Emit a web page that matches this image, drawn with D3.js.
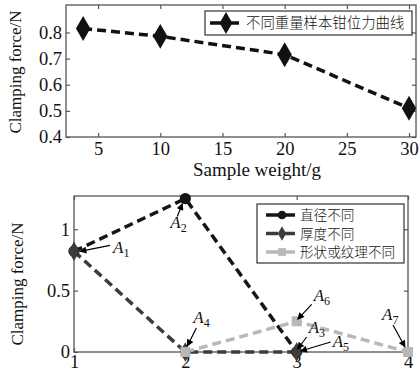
<!DOCTYPE html>
<html>
<head>
<meta charset="utf-8">
<script src="https://cdn.jsdelivr.net/npm/d3@7"></script>
<style>
  body { margin: 0; background: #fff; }
  svg text { font-family: "Liberation Serif", "DejaVu Serif", serif; }
  svg text.cjk { font-family: "Noto Sans CJK SC", sans-serif; }
</style>
</head>
<body>
<div id="chart"></div>
<script>
// top chart data
const weights = [3.8, 10, 20, 30];
const forces = [0.815, 0.785, 0.715, 0.51];
const topXTicks = [5, 10, 15, 20, 25, 30];
const topYTicks = [0.4, 0.5, 0.6, 0.7, 0.8];
const topLegend = '不同重量样本钳位力曲线';

// bottom chart data
const cases = [1, 2, 3, 4];
const diameter = [[1, 0.82], [2, 1.25], [3, 0]];
const thickness = [[1, 0.82], [2, 0], [3, 0]];
const shape = [[2, 0], [3, 0.25], [4, 0]];
const seriesNames = ['直径不同', '厚度不同', '形状或纹理不同'];
const botYTicks = [0, 0.5, 1];
// annotations: target point, arrow start / label offset in px
const notes = [
  { n: '1', p: [1, 0.82], tip: [6, 0], from: [36, -6], lab: [39, 2] },
  { n: '2', p: [2, 1.25], tip: [-3, 5], from: [-8, 18], lab: [-15, 29] },
  { n: '3', p: [3, 0], tip: [1, -3], from: [10, -15], lab: [12, -19] },
  { n: '4', p: [2, 0], tip: [2, -6], from: [11, -24], lab: [8, -29] },
  { n: '5', p: [3, 0], tip: [4, -1], from: [34, -10], lab: [36, -5] },
  { n: '6', p: [3, 0.25], tip: [1, -2], from: [15, -17], lab: [17, -20] },
  { n: '7', p: [4, 0], tip: [-3, -5], from: [-15, -27], lab: [-26, -32] }
];

const W = 420, H = 373;
const svg = d3.select('#chart').append('svg').attr('width', W).attr('height', H);
svg.append('defs').append('marker')
  .attr('id', 'arr').attr('viewBox', '0 0 10 10').attr('refX', 9).attr('refY', 5)
  .attr('markerWidth', 9).attr('markerHeight', 7).attr('orient', 'auto')
  .attr('markerUnits', 'userSpaceOnUse')
  .append('path').attr('d', 'M0,0L10,5L0,10z').attr('fill', '#000');

const axisColor = '#555';
const serif = '"Liberation Serif", "DejaVu Serif", serif';

function frame(g, x, y, xt, yt, fmtY, xPad) {
  const [x0, x1] = x.range(), [y0, y1] = y.range();
  g.append('rect').attr('x', x0).attr('y', y1).attr('width', x1 - x0).attr('height', y0 - y1)
    .attr('fill', 'none').attr('stroke', axisColor).attr('stroke-width', 1.3);
  // inward ticks on all four sides
  g.append('g').attr('transform', `translate(0,${y0})`)
    .call(d3.axisBottom(x).tickValues(xt).tickSize(-4).tickPadding(xPad).tickFormat(d3.format('d')))
    .call(a => a.select('.domain').remove());
  g.append('g').attr('transform', `translate(0,${y1})`)
    .call(d3.axisTop(x).tickValues(xt).tickSize(-4).tickFormat(''))
    .call(a => a.select('.domain').remove());
  g.append('g').attr('transform', `translate(${x0},0)`)
    .call(d3.axisLeft(y).tickValues(yt).tickSize(-4).tickPadding(4).tickFormat(fmtY))
    .call(a => a.select('.domain').remove());
  g.append('g').attr('transform', `translate(${x1},0)`)
    .call(d3.axisRight(y).tickValues(yt).tickSize(-4).tickFormat(''))
    .call(a => a.select('.domain').remove());
  g.selectAll('.tick line').attr('stroke', axisColor).attr('stroke-width', 1.2);
  g.selectAll('.tick text').style('font-family', serif)
    .style('font-size', '18.5px').attr('fill', '#111');
}

function marker(sel, shape, size) {
  const t = { diamond: d3.symbolDiamond, circle: d3.symbolCircle, square: d3.symbolSquare }[shape];
  return sel.append('path').attr('d', d3.symbol(t, size));
}

// ---------- top chart ----------
const gt = svg.append('g');
const xT = d3.scaleLinear().domain([2.42, 30.56]).range([66, 416]);
const yT = d3.scaleLinear().domain([0.4, 0.905]).range([137, 5]);
frame(gt, xT, yT, topXTicks, topYTicks, d3.format('.1f'), 5);

const topPts = weights.map((w, i) => [w, forces[i]]);
gt.append('path').datum(topPts)
  .attr('d', d3.line().x(d => xT(d[0])).y(d => yT(d[1])))
  .attr('fill', 'none').attr('stroke', '#111').attr('stroke-width', 3.5)
  .attr('stroke-dasharray', '9,5');
topPts.forEach(d => marker(gt, 'diamond', 180)
  .attr('transform', `translate(${xT(d[0])},${yT(d[1])})`).attr('fill', '#111'));

// top legend
const lt = gt.append('g').attr('transform', 'translate(205,11)');
lt.append('rect').attr('width', 207).attr('height', 24).attr('fill', '#fff')
  .attr('stroke', '#333').attr('stroke-width', 1.2);
lt.append('line').attr('x1', 5).attr('x2', 35).attr('y1', 12).attr('y2', 12)
  .attr('stroke', '#111').attr('stroke-width', 3.5).attr('stroke-dasharray', '12,5');
marker(lt, 'diamond', 140).attr('transform', 'translate(21,12)').attr('fill', '#111');
lt.append('text').attr('class', 'cjk').attr('x', 41).attr('y', 17)
  .attr('font-size', 14.4).attr('font-weight', 300).attr('fill', '#111').text(topLegend);

gt.append('text').attr('x', 257).attr('y', 176).attr('text-anchor', 'middle')
  .style('font-size', '19px').attr('fill', '#111').text('Sample weight/g');
gt.append('text').attr('transform', 'translate(21,72) rotate(-90)').attr('text-anchor', 'middle')
  .style('font-size', '17px').attr('fill', '#111').text('Clamping force/N');

// ---------- bottom chart ----------
const gb = svg.append('g');
const xB = d3.scaleLinear().domain([1, 4]).range([74, 408]);
const yB = d3.scaleLinear().domain([0, 1.271]).range([352, 196]);
frame(gb, xB, yB, cases, botYTicks, d => String(d), 3);

const series = [
  { data: diameter, color: '#161616', shape: 'circle', size: 100 },
  { data: thickness, color: '#3c3c3c', shape: 'diamond', size: 110 },
  { data: shape, color: '#b8b8b8', shape: 'square', size: 100 }
];
const line = d3.line().x(d => xB(d[0])).y(d => yB(d[1]));
series.forEach(s => {
  gb.append('path').datum(s.data).attr('d', line)
    .attr('fill', 'none').attr('stroke', s.color).attr('stroke-width', 3.5)
    .attr('stroke-dasharray', '9,5');
});
series.forEach(s => {
  s.data.forEach(d => marker(gb, s.shape, s.size)
    .attr('transform', `translate(${xB(d[0])},${yB(d[1])})`).attr('fill', s.color));
});

// bottom legend
const lb = gb.append('g').attr('transform', 'translate(257,204)');
lb.append('rect').attr('width', 147).attr('height', 59).attr('fill', '#fff')
  .attr('stroke', '#333').attr('stroke-width', 1.2);
series.forEach((s, i) => {
  const yy = 11 + i * 18.5;
  lb.append('line').attr('x1', 9).attr('x2', 40).attr('y1', yy).attr('y2', yy)
    .attr('stroke', s.color).attr('stroke-width', 3.5).attr('stroke-dasharray', '12,5');
  marker(lb, s.shape, 60).attr('transform', `translate(25,${yy})`).attr('fill', s.color);
  lb.append('text').attr('class', 'cjk').attr('x', 43).attr('y', yy + 5)
    .attr('font-size', 13.6).attr('font-weight', 300).attr('fill', '#111').text(seriesNames[i]);
});

// annotations
notes.forEach(a => {
  const px = xB(a.p[0]), py = yB(a.p[1]);
  gb.append('line')
    .attr('x1', px + a.from[0]).attr('y1', py + a.from[1])
    .attr('x2', px + a.tip[0]).attr('y2', py + a.tip[1])
    .attr('stroke', '#000').attr('stroke-width', 1.2).attr('marker-end', 'url(#arr)');
  const t = gb.append('text').attr('x', px + a.lab[0]).attr('y', py + a.lab[1])
    .style('font-size', '17px').attr('font-style', 'italic').attr('fill', '#111');
  t.append('tspan').text('A');
  t.append('tspan').attr('font-style', 'normal').style('font-size', '12px').attr('dy', 4).text(a.n);
});

gb.append('text').attr('transform', 'translate(23,284) rotate(-90)').attr('text-anchor', 'middle')
  .style('font-size', '17px').attr('fill', '#111').text('Clamping force/N');
</script>
</body>
</html>
